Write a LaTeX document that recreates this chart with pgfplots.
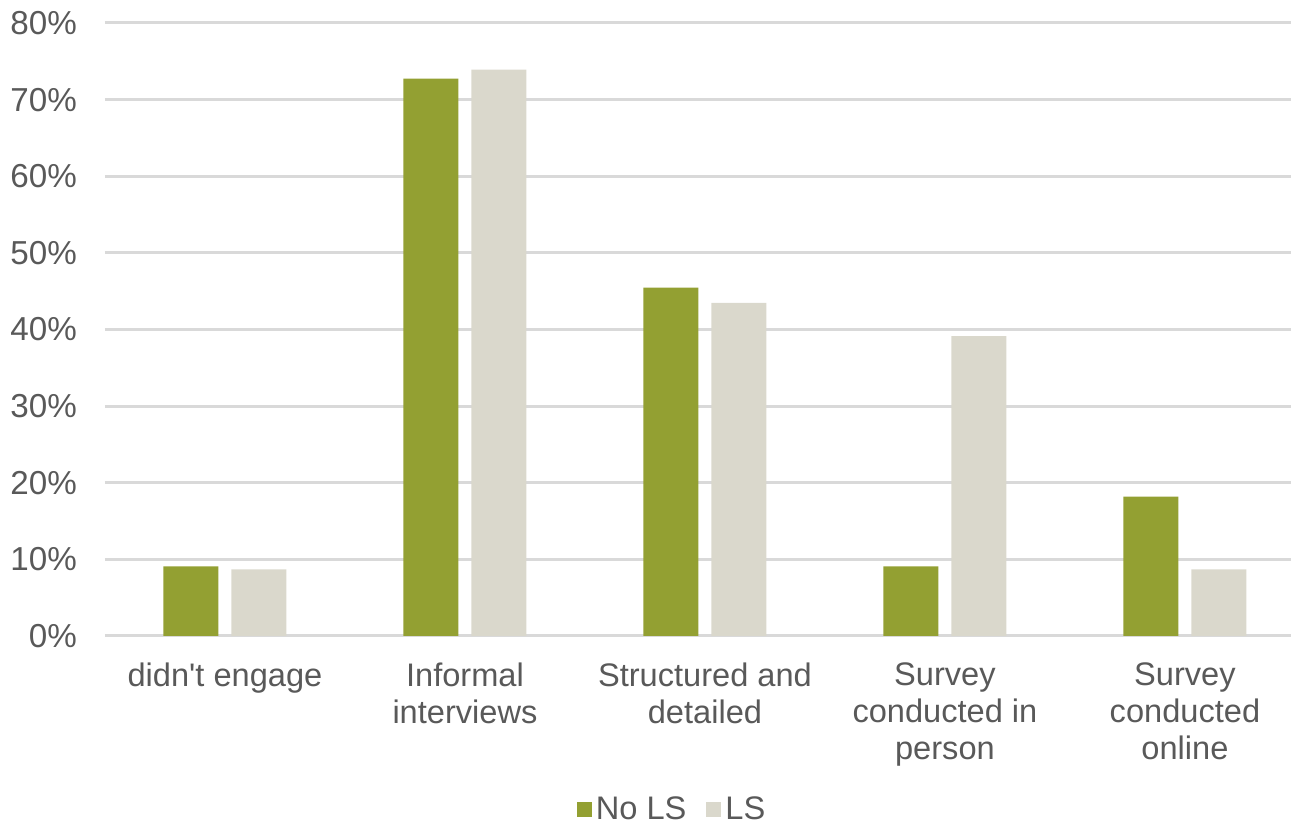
\documentclass[border=0pt]{standalone}
\usepackage{pgfplots}
\pgfplotsset{compat=1.18}
\usepackage{fontspec}
\setmainfont{Liberation Sans}
\usetikzlibrary{calc}
\definecolor{olive}{HTML}{93A032}
\definecolor{beige}{HTML}{DAD8CC}
\definecolor{txt}{HTML}{595959}
\definecolor{gridc}{HTML}{D9D9D9}
\begin{document}
\begin{tikzpicture}
\begin{axis}[
  name=ax,
  scale only axis,
  width=593pt, height=306.5pt,
  xmin=-0.5, xmax=4.442, ymin=0, ymax=80,
  ybar, bar width=27.5pt,
  axis line style={draw=none},
  major tick length=0pt,
  ymajorgrids, grid style={gridc, line width=1.5pt},
  ytick={0,10,...,80},
  yticklabel={\pgfmathprintnumber{\tick}\%},
  /pgf/number format/assume math mode=true,
  yticklabel style={font=\fontsize{16.6}{19}\selectfont, text=txt, xshift=-10.5pt},
  xtick={0,1,2,3,4},
  xticklabels={{didn\textquotesingle t engage},{Informal\\interviews},{Structured and\\detailed},{Survey\\conducted in\\person},{Survey\\conducted\\online}},
  xticklabel style={font=\fontsize{16.3}{18.5}\selectfont, text=txt, align=center, yshift=-10pt},
  legend style={at={(0.479,-0.31)}, anchor=south, yshift=-2.5pt, draw=none, legend columns=-1, font=\fontsize{16.3}{19}\selectfont, text=txt, /tikz/every even column/.append style={column sep=8pt}},
  legend image code/.code={\fill[#1, draw=none] (0pt,-3.75pt) rectangle (7.5pt,3.75pt);},
]
\addplot[fill=olive, draw=none, bar shift=-17pt] coordinates {(0,9.09) (1,72.73) (2,45.45) (3,9.09) (4,18.18)};
\addplot[fill=beige, draw=none, bar shift=17pt] coordinates {(0,8.70) (1,73.91) (2,43.48) (3,39.13) (4,8.70)};
\legend{No LS, LS}
\end{axis}
\pgfresetboundingbox
\path ($(ax.south west)+(-52.5pt,-95pt)$) rectangle ($(ax.north east)+(0pt,11.5pt)$);
\end{tikzpicture}
\end{document}
